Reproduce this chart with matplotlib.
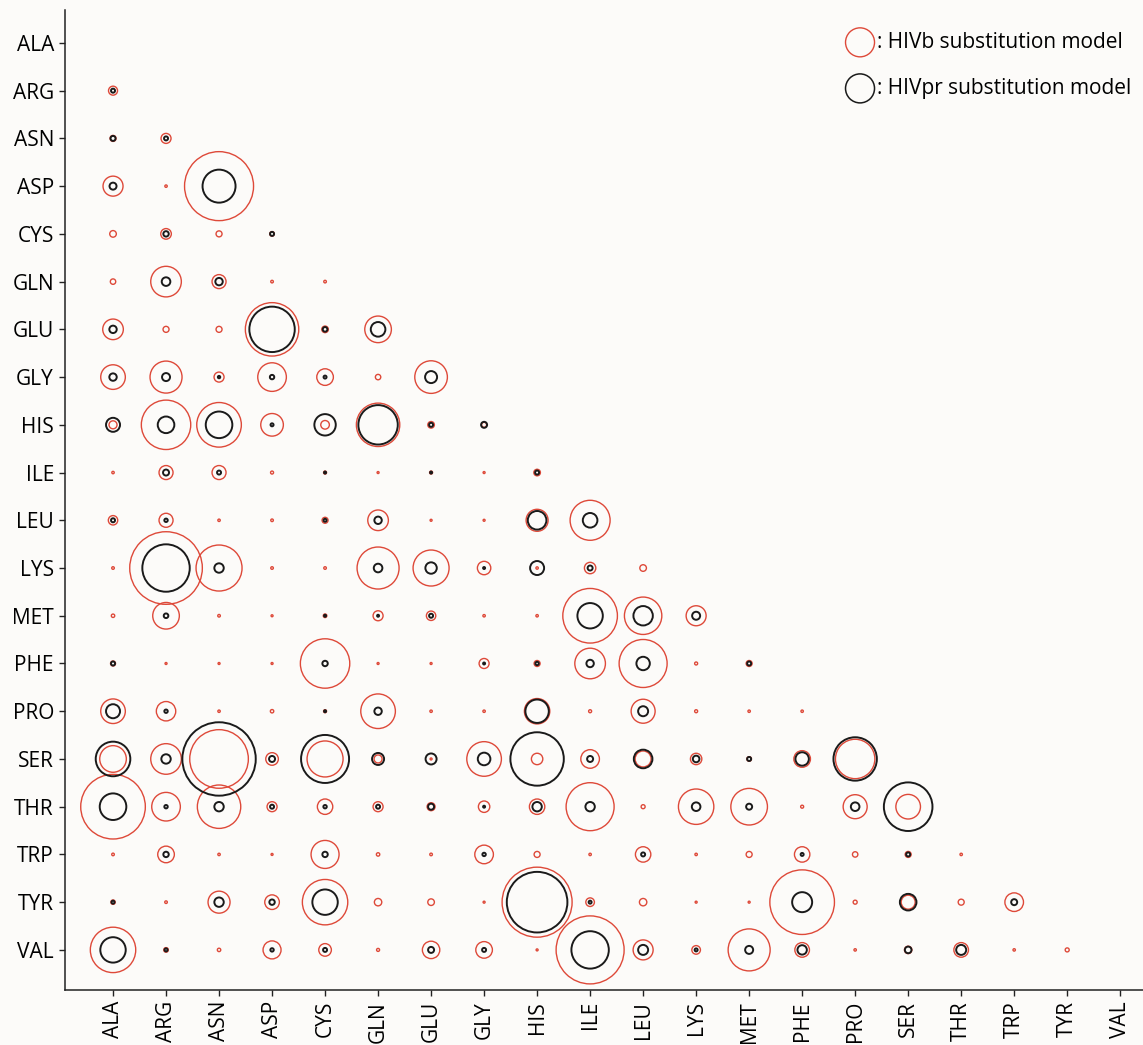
import numpy as np
import matplotlib
matplotlib.use("Agg")
import matplotlib.pyplot as plt

plt.rcParams['font.family'] = ['Open Sans', 'DejaVu Sans']

amino = ["ALA", "ARG", "ASN", "ASP", "CYS", "GLN", "GLU", "GLY", "HIS", "ILE",
         "LEU", "LYS", "MET", "PHE", "PRO", "SER", "THR", "TRP", "TYR", "VAL"]

# bubble radius (px) per pair, lower triangle, row = amino[i], col = amino[j<i]
hivb = [
    [],
    [4.5],
    [3, 5],
    [10, 1.2, 34.5],
    [3.3, 5.3, 3, 2.3],
    [2.7, 15.3, 7, 1.3, 1.3],
    [10.3, 3, 3, 26.7, 3.3, 13.3],
    [12.3, 16, 5, 14.3, 8.3, 2.7, 16.3],
    [4, 24.7, 22.3, 11.3, 4.3, 21.7, 3.3, 2.5],
    [1.2, 7, 7, 1.5, 1.5, 1, 1.5, 1, 3.3],
    [4.7, 7, 1.2, 1.3, 3, 10.3, 1, 1, 11, 20],
    [1.3, 36.3, 23, 1.3, 1.3, 21, 18, 6.7, 1.2, 5.7, 3.3],
    [1.7, 13.3, 1.3, 1, 1.8, 5, 4.7, 1.2, 1.2, 27.3, 18.7, 10],
    [2.5, 1, 1, 1, 24.7, 1, 1, 5, 3, 15.3, 24, 1.5, 3],
    [12.3, 9.7, 1.2, 1.7, 1.5, 17.3, 1.2, 1.2, 12.7, 1.5, 12, 1.5, 1.2, 1.2],
    [13.3, 15.3, 29.3, 6.3, 18, 4, 1, 17.3, 5.7, 9.3, 8, 5.7, 2.3, 8.3, 19.7],
    [32.3, 14.3, 21.7, 5, 7.7, 5, 4, 5.7, 7.7, 24, 2, 17.7, 18.3, 1.5, 12, 12.3],
    [1.3, 8.3, 1.2, 1, 14, 1.7, 1.3, 9.3, 3, 1.2, 7.7, 1.2, 3, 7.7, 2.7, 3, 1.2],
    [2.2, 1.3, 11, 7.3, 22.7, 3.7, 3.3, 1, 35, 4.3, 3.7, 1, 1, 32.3, 2, 7, 3, 9.3],
    [22.7, 2.3, 1.7, 9, 6.3, 1.5, 8.7, 8.3, 1, 34, 10, 4.3, 21, 7.3, 1.2, 3.7, 7.3, 1.2, 2],
]

hivpr = [
    [],
    [2],
    [2.5, 2],
    [3.5, 0, 16.5],
    [0, 2.7, 0, 2],
    [0, 4.3, 3.7, 0, 0],
    [3.7, 0, 0, 22.7, 2.3, 7.3],
    [3.7, 4, 1.2, 2.2, 1.5, 0, 6],
    [7, 8.3, 13.3, 1.5, 10.7, 19.7, 2, 3],
    [0, 3, 2, 0, 1, 0, 1, 0, 2],
    [2, 1.7, 0, 0, 1.5, 3.7, 0, 0, 9.3, 7.3],
    [0, 23.7, 4.7, 0, 0, 4.3, 5.7, 1, 7, 2.5, 0],
    [0, 2.3, 0, 0, 1, 1, 2, 0, 0, 12.7, 9.7, 4],
    [2, 0, 0, 0, 2.7, 0, 0, 1, 1.7, 3.7, 6.7, 0, 2],
    [7, 1.7, 0, 0, 1, 3.7, 0, 0, 11.7, 0, 5, 0, 0, 0],
    [17.3, 4.7, 36.7, 3, 24, 6, 5.5, 6.3, 26.7, 3, 9.3, 3.3, 2, 6.7, 21.7],
    [13.3, 1.7, 4.7, 2, 1.7, 2, 3, 1, 4.7, 4.7, 0, 4.3, 3, 0, 4.3, 24.3],
    [0, 2.7, 0, 0, 2.7, 0, 0, 1.7, 0, 0, 2, 0, 0, 1.5, 0, 2, 0],
    [1.5, 0, 4.7, 2.7, 12.7, 0, 0, 0, 30.3, 1.5, 0, 0, 0, 10, 0, 8.3, 0, 3],
    [12.7, 1.5, 0, 1.7, 2, 0, 3, 2, 0, 18.7, 5, 1.5, 4, 4.7, 0, 3.3, 5, 0, 0],
]

RED = "#de4939"
BLACK = "#1a1a1a"
BG = "#fcfbf9"
DPI = 100


def area(r):
    # radius in px -> scatter area in pt^2
    d = 2 * np.asarray(r, dtype=float) * 72 / DPI
    return d * d


rows, cols, rb, rp = [], [], [], []
for i in range(len(amino)):
    for j in range(i):
        rows.append(i)
        cols.append(j)
        rb.append(hivb[i][j])
        rp.append(hivpr[i][j])
rows = np.array(rows)
cols = np.array(cols)
rb = np.array(rb)
rp = np.array(rp)

fig = plt.figure(figsize=(11.43, 10.45), dpi=DPI, facecolor=BG)
ax = fig.add_axes([65 / 1143, 55 / 1045, 1078 / 1143, 980 / 1045], facecolor=BG)

ax.scatter(cols, rows, s=area(rb), facecolors='none', edgecolors=RED, linewidths=1.0)
m = rp > 0
ax.scatter(cols[m], rows[m], s=area(rp[m]), facecolors='none', edgecolors=BLACK, linewidths=1.4)

ax.set_xlim(-0.906, 19.43)
ax.set_ylim(19.84, -0.69)
ax.set_xticks(range(len(amino)))
ax.set_xticklabels(amino, rotation=90, fontsize=15)
ax.set_yticks(range(len(amino)))
ax.set_yticklabels(amino, fontsize=15)
ax.tick_params(direction='out', length=4.5, width=1, pad=3.5, color='#222222')

for s in ['top', 'right']:
    ax.spines[s].set_visible(False)
for s in ['left', 'bottom']:
    ax.spines[s].set_linewidth(1.1)
    ax.spines[s].set_color('#222222')

# legend
ax.scatter([0.7375], [0.967], s=area(14.5), facecolors='none', edgecolors=RED,
           linewidths=1.0, transform=ax.transAxes, clip_on=False)
ax.scatter([0.7375], [0.920], s=area(14.5), facecolors='none', edgecolors=BLACK,
           linewidths=1.1, transform=ax.transAxes, clip_on=False)
ax.text(0.753, 0.967, ": HIVb substitution model", transform=ax.transAxes,
        va='center', ha='left', fontsize=15)
ax.text(0.753, 0.920, ": HIVpr substitution model", transform=ax.transAxes,
        va='center', ha='left', fontsize=15)

fig.savefig("out.png", dpi=DPI, facecolor=BG)
